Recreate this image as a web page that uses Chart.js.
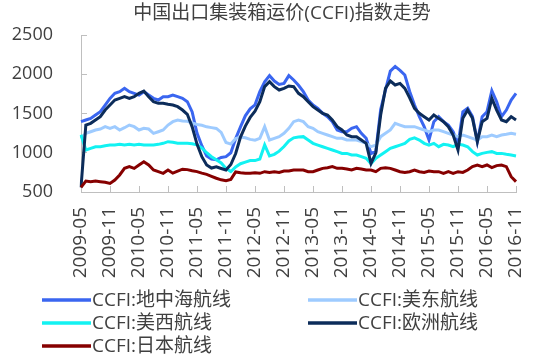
<!DOCTYPE html>
<html><head><meta charset="utf-8">
<script src="https://cdn.jsdelivr.net/npm/chart.js@4"></script>
<style>html,body{margin:0;padding:0;background:#fff;}#wrap{width:541px;height:358px;position:relative;}</style>
</head><body><div id="wrap"><canvas id="c" width="541" height="358" style="width:541px;height:358px"></canvas></div>
<script>
const titleText = '中国出口集装箱运价(CCFI)指数走势';
const seriesNames = ['CCFI:地中海航线', 'CCFI:美东航线', 'CCFI:美西航线', 'CCFI:欧洲航线', 'CCFI:日本航线'];
const seriesColors = ['#3a66f0', '#9ecbff', '#12f2f2', '#0c2c5a', '#860000'];
const tickLabels = ['2009-05','2009-11','2010-05','2010-11','2011-05','2011-11','2012-05','2012-11',
  '2013-05','2013-11','2014-05','2014-11','2015-05','2015-11','2016-05','2016-11'];
const yTicks = [500, 1000, 1500, 2000, 2500];

// monthly categories 2009-05 .. 2016-11
const months = [];
for (let y = 2009, m = 5; y < 2016 || (y === 2016 && m <= 11); m++) {
  if (m > 12) { m = 1; y++; }
  months.push(y + '-' + String(m).padStart(2, '0'));
}

const mediterranean = [1396,1417,1438,1481,1523,1608,1693,1757,1778,1820,1778,1757,1735,1778,1735,1693,1672,1714,1714,1735,1714,1693,1650,1520,
  1250,1090,960,920,910,940,950,1000,1180,1330,1470,1560,1610,1778,1905,1982,1914,1871,1884,1982,1927,1860,
  1778,1672,1608,1566,1502,1460,1396,1290,1268,1268,1311,1332,1247,1184,990,1020,1550,1800,2040,2100,2050,1990,
  1780,1608,1460,1332,1162,1396,1460,1396,1353,1268,1100,1520,1566,1460,1141,1460,1523,1790,1650,1460,1544,1672,1757];
const usEast = [1180,1247,1268,1290,1302,1332,1311,1332,1290,1319,1353,1332,1290,1311,1302,1247,1268,1290,1353,1396,1417,1405,1400,1380,
  1360,1350,1330,1320,1310,1260,1130,1110,1180,1200,1190,1170,1160,1184,1332,1162,1184,1205,1247,1311,1396,1417,
  1396,1332,1311,1268,1247,1226,1205,1184,1184,1162,1162,1162,1141,1120,1077,1098,1205,1247,1290,1375,1353,1332,
  1330,1332,1311,1290,1268,1290,1290,1268,1247,1226,1205,1226,1205,1184,1162,1205,1205,1226,1205,1226,1235,1247,1235];
const usWest = [1230,1035,1056,1077,1077,1090,1098,1098,1107,1098,1107,1098,1107,1098,1098,1098,1107,1120,1141,1133,1120,1120,1120,1115,
  1100,1060,1000,950,910,870,800,760,820,860,880,900,900,920,1100,960,980,1020,1080,1150,1190,1200,
  1205,1162,1120,1098,1077,1056,1035,1014,992,992,971,971,950,929,860,929,971,1014,1056,1077,1098,1120,
  1170,1190,1162,1120,1098,1120,1077,1107,1098,1077,1107,1098,1077,1014,971,992,1005,1014,992,992,980,971,958];
const europe = [560,1353,1375,1417,1460,1544,1608,1672,1693,1714,1693,1714,1757,1786,1714,1650,1629,1629,1617,1608,1587,1544,1490,1330,
  1110,950,845,805,820,800,780,850,990,1200,1340,1450,1530,1650,1842,1905,1842,1799,1820,1850,1842,1757,
  1714,1650,1587,1544,1502,1481,1417,1332,1290,1226,1205,1205,1162,1120,865,1000,1480,1820,1914,1863,1884,1820,
  1700,1566,1502,1460,1417,1481,1438,1396,1332,1226,1035,1438,1544,1438,1141,1396,1438,1693,1544,1417,1396,1460,1417];
const japan = [560,640,632,640,632,623,610,653,717,801,823,801,844,886,844,780,759,738,780,740,765,790,785,770,
  760,740,725,700,675,655,645,660,755,745,738,740,745,738,759,750,759,750,767,767,780,780,
  780,759,759,780,801,810,823,801,801,793,780,801,793,780,780,759,801,810,801,780,759,750,
  759,780,759,750,767,759,759,738,759,738,759,750,780,823,844,823,844,810,836,844,823,695,632];

const seriesValues = [mediterranean, usEast, usWest, europe, japan];
const FONT = "'Open Sans', 'Noto Sans CJK SC', sans-serif";
const TXT = '#404040';
const AXIS = '#bfbfbf';

const datasets = seriesNames.map((name, i) => ({
  label: name,
  data: seriesValues[i],
  borderColor: seriesColors[i],
  backgroundColor: seriesColors[i],
  borderWidth: 3,
  pointRadius: 0,
  tension: 0,
  fill: false,
  order: seriesNames.length - i
}));

function noPad(scale) {
  scale.paddingTop = 0; scale.paddingBottom = 0;
  scale.paddingLeft = 0; scale.paddingRight = 0;
}

const extras = {
  id: 'extras',
  afterDraw(chart) {
    const ctx = chart.ctx;
    ctx.save();
    ctx.fillStyle = TXT;
    ctx.font = '19px ' + FONT;
    ctx.textAlign = 'center';
    ctx.textBaseline = 'middle';
    ctx.fillText(titleText, 282, 14);
    const cols = [42, 308];
    const rows = [300, 323, 346];
    ctx.textAlign = 'left';
    chart.data.datasets.forEach((ds, i) => {
      const x = cols[i % 2];
      const y = rows[Math.floor(i / 2)];
      ctx.strokeStyle = ds.borderColor;
      ctx.lineWidth = 3.5;
      ctx.beginPath();
      ctx.moveTo(x, y);
      ctx.lineTo(x + 49, y);
      ctx.stroke();
      ctx.fillStyle = TXT;
      ctx.fillText(ds.label, x + 50, y + 1);
    });
    ctx.restore();
  }
};

new Chart(document.getElementById('c'), {
  type: 'line',
  data: { labels: months, datasets },
  options: {
    responsive: false,
    animation: false,
    devicePixelRatio: 1,
    layout: { autoPadding: false, padding: { top: 35, right: 25, bottom: 0, left: 0 } },
    plugins: { legend: { display: false }, tooltip: { enabled: false }, title: { display: false } },
    scales: {
      x: {
        type: 'category',
        offset: false,
        afterFit(scale) { scale.height = 166; noPad(scale); },
        border: { color: AXIS, width: 1 },
        grid: { drawOnChartArea: false, drawTicks: true, tickLength: -6, color: AXIS },
        ticks: {
          autoSkip: false,
          maxRotation: 90,
          minRotation: 90,
          padding: 21,
          color: TXT,
          font: { family: FONT, size: 19 },
          callback(value) {
            const lab = this.getLabelForValue(value);
            return tickLabels.includes(lab) ? lab : null;
          }
        }
      },
      y: {
        min: yTicks[0],
        max: yTicks[yTicks.length - 1],
        afterFit(scale) { scale.width = 81; noPad(scale); },
        afterBuildTicks(scale) { scale.ticks = yTicks.map(v => ({ value: v })); },
        border: { color: AXIS, width: 1 },
        grid: { drawOnChartArea: false, drawTicks: true, tickLength: -6, color: AXIS },
        ticks: {
          padding: 34,
          color: TXT,
          font: { family: FONT, size: 18 },
          callback(value) { return String(value); }
        }
      }
    }
  },
  plugins: [extras]
});
</script>
</body></html>
